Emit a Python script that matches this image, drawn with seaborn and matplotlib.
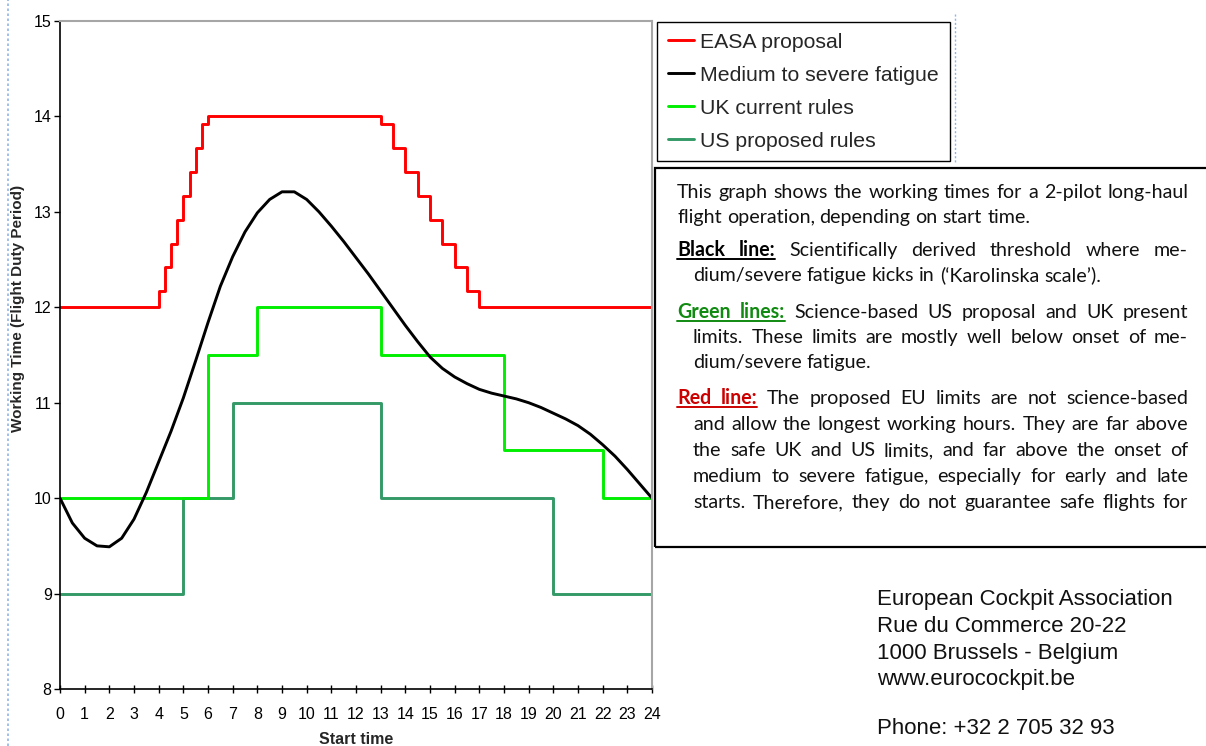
import matplotlib
matplotlib.use("Agg")
import matplotlib.pyplot as plt
import seaborn as sns
from matplotlib.lines import Line2D
from matplotlib.patches import Rectangle

# --- data ---
easa_x = [0, 4, 4.25, 4.5, 4.75, 5, 5.25, 5.5, 5.75, 6,
          13, 13.5, 14, 14.5, 15, 15.5, 16, 16.5, 17, 24]
easa_y = [12, 12.167, 12.417, 12.667, 12.917, 13.167, 13.417, 13.667, 13.917, 14,
          13.917, 13.667, 13.417, 13.167, 12.917, 12.667, 12.417, 12.167, 12, 12]

uk_x = [0, 6, 8, 13, 18, 22, 24]
uk_y = [10, 11.5, 12, 11.5, 10.5, 10, 10]

us_x = [0, 5, 7, 13, 20, 24]
us_y = [9, 10, 11, 10, 9, 9]

fatigue_x = [0, 0.5, 1, 1.5, 2, 2.5, 3, 3.5, 4, 4.5, 5, 5.5, 6, 6.5, 7, 7.5, 8, 8.5,
             9, 9.5, 10, 10.5, 11, 11.5, 12, 12.5, 13, 13.5, 14, 14.5, 15, 15.5, 16,
             16.5, 17, 17.5, 18, 18.5, 19, 19.5, 20, 20.5, 21, 21.5, 22, 22.5, 23,
             23.5, 24]
fatigue_y = [10.00, 9.74, 9.58, 9.50, 9.49, 9.58, 9.78, 10.06, 10.38, 10.70, 11.05,
             11.44, 11.84, 12.22, 12.53, 12.79, 12.99, 13.13, 13.21, 13.21, 13.13,
             13.00, 12.85, 12.69, 12.52, 12.35, 12.17, 11.99, 11.81, 11.64, 11.48,
             11.36, 11.27, 11.20, 11.14, 11.10, 11.07, 11.04, 11.00, 10.95, 10.89,
             10.83, 10.76, 10.67, 10.56, 10.44, 10.30, 10.15, 10.00]

series_labels = ["EASA proposal", "Medium to severe fatigue",
                 "UK current rules", "US proposed rules"]
x_ticks = list(range(0, 25))
y_ticks = list(range(8, 16))

# explanatory box: (left px, baseline px, heading, heading colour, text, justified)
box_lines = [
    (677, 198, "", None, "This graph shows the working times for a 2-pilot long-haul", True),
    (677, 223, "", None, "flight operation, depending on start time.", False),
    (677, 256, "Black line:", "black", "Scientifically derived threshold where me-", True),
    (693, 281, "", None, "dium/severe fatigue kicks in (\u2018Karolinska scale\u2019).", False),
    (677, 318, "Green lines:", "#108a10", "Science-based US proposal and UK present", True),
    (693, 343, "", None, "limits. These limits are mostly well below onset of me-", True),
    (693, 368, "", None, "dium/severe fatigue.", False),
    (677, 404, "Red line:", "#cc0000", "The proposed EU limits are not science-based", True),
    (693, 430, "", None, "and allow the longest working hours. They are far above", True),
    (693, 456, "", None, "the safe UK and US limits, and far above the onset of", True),
    (693, 482, "", None, "medium to severe fatigue, especially for early and late", True),
    (693, 508, "", None, "starts. Therefore, they do not guarantee safe flights for", True),
]
box_right = 1188

address_lines = ["European Cockpit Association", "Rue du Commerce 20-22",
                 "1000 Brussels - Belgium", "www.eurocockpit.be",
                 "Phone: +32 2 705 32 93"]
address_y = [600, 626, 653, 680, 728]

# --- figure setup ---
W, H = 1206, 746
sns.set_style("white")
plt.rcParams["font.family"] = ["Liberation Sans Narrow", "Liberation Sans", "DejaVu Sans"]


def fx(px):
    return px / W


def fy(py):
    return 1 - py / H


fig = plt.figure(figsize=(W / 100, H / 100), dpi=100)
ax = fig.add_axes([fx(60), fy(689), (652 - 60) / W, (689 - 21) / H])

lw = 2.1
sns.lineplot(x=us_x, y=us_y, ax=ax, color="#339966", lw=lw, drawstyle="steps-post",
             estimator=None, sort=False, label=series_labels[3])
sns.lineplot(x=uk_x, y=uk_y, ax=ax, color="#00ee00", lw=lw, drawstyle="steps-post",
             estimator=None, sort=False, label=series_labels[2])
sns.lineplot(x=fatigue_x, y=fatigue_y, ax=ax, color="black", lw=lw,
             estimator=None, sort=False, label=series_labels[1])
sns.lineplot(x=easa_x, y=easa_y, ax=ax, color="#ff0000", lw=lw, drawstyle="steps-post",
             estimator=None, sort=False, label=series_labels[0])

ax.set_xlim(0, 24)
ax.set_ylim(8, 15)
ax.set_xticks(x_ticks)
ax.set_yticks(y_ticks)
ax.set_xlabel("")
ax.set_ylabel("")
ax.tick_params(axis="y", direction="out", length=4, width=1, pad=2, labelsize=11.5,
               left=True, colors="black")
ax.tick_params(axis="x", direction="inout", length=6, width=1, pad=10, labelsize=11.5,
               bottom=True, colors="black")
for side in ["left", "bottom"]:
    ax.spines[side].set_color("black")
    ax.spines[side].set_linewidth(1.2)
for side in ["top", "right"]:
    ax.spines[side].set_color("#a6a6a6")
    ax.spines[side].set_linewidth(1.5)

fig.text(fx(18), fy(308), "Working Time (Flight Duty Period)", rotation=90,
         ha="center", va="center", fontweight="bold", fontsize=11)
fig.text(fx(356), fy(740), "Start time", ha="center", va="center",
         fontweight="bold", fontsize=11.5)

# legend in its own box to the right of the plot
handles, labels = ax.get_legend_handles_labels()
order = [labels.index(l) for l in series_labels]
leg = ax.legend([handles[i] for i in order], [labels[i] for i in order],
                loc="upper left", bbox_to_anchor=(fx(657), fy(22)),
                bbox_transform=fig.transFigure, borderaxespad=0,
                prop={"family": "Liberation Sans", "size": 15.3},
                frameon=True, fancybox=False, framealpha=1, edgecolor="black",
                handlelength=1.25, handletextpad=0.28, labelspacing=0.66,
                borderpad=0.5)
leg.get_frame().set_linewidth(1.0)

# text box
fig.patches.append(Rectangle((fx(655), fy(547)), (1215 - 655) / W, (547 - 168) / H,
                             transform=fig.transFigure, fill=False,
                             edgecolor="black", linewidth=1.6))

renderer = fig.canvas.get_renderer()


def width_of(s, **kw):
    t = fig.text(0, 0, s, **kw)
    w = t.get_window_extent(renderer).width
    t.remove()
    return w


body = {"family": "Lato", "size": 14}
nat = width_of(box_lines[0][4], fontfamily=body["family"], fontsize=body["size"])
body["size"] = body["size"] * (box_right - 677 - 6) / nat

for x0, base, head, hcol, text, justify in box_lines:
    words = []
    for w in head.split():
        words.append((w, dict(fontweight="bold", color=hcol)))
    for w in text.split():
        words.append((w, dict(color="#111111")))
    widths = [width_of(w, fontfamily=body["family"], fontsize=body["size"], **st)
              for w, st in words]
    space = (width_of("a a", fontfamily=body["family"], fontsize=body["size"])
             - width_of("aa", fontfamily=body["family"], fontsize=body["size"]))
    if justify and len(words) > 1:
        gap = (box_right - x0 - sum(widths)) / (len(words) - 1)
    else:
        gap = space
    x = x0
    head_end = None
    nhead = len(head.split())
    for i, ((w, st), wd) in enumerate(zip(words, widths)):
        fig.text(fx(x), fy(base), w, ha="left", va="baseline",
                 fontfamily=body["family"], fontsize=body["size"], **st)
        x += wd
        if i == nhead - 1:
            head_end = x
        x += gap
    if nhead:
        fig.add_artist(Line2D([fx(x0), fx(head_end)], [fy(base + 3), fy(base + 3)],
                              transform=fig.transFigure, color=hcol, lw=1.4))

# address block
for line, y in zip(address_lines, address_y):
    fig.text(fx(877), fy(y), line, ha="left", va="center",
             fontfamily="Liberation Sans", fontsize=16, color="#111111")

# dotted frame guides from the source page
fig.add_artist(Line2D([fx(8), fx(8)], [0, 1], transform=fig.transFigure,
                      color="#8fb4e8", lw=1.2, ls=(0, (1.5, 1.5))))
fig.add_artist(Line2D([fx(955), fx(955)], [fy(14), fy(163)], transform=fig.transFigure,
                      color="#8fb4e8", lw=1.0, ls=(0, (1.5, 1.5))))

fig.savefig("out.png", dpi=100)
